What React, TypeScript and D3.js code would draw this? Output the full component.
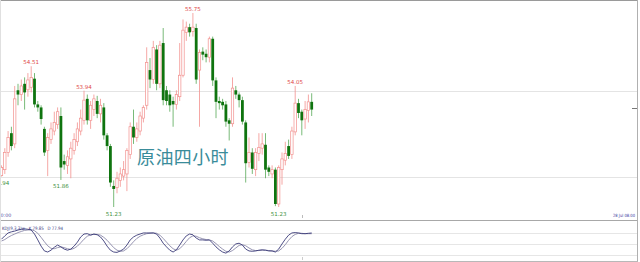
import React from "react";
import * as d3 from "d3";

const opens = [51.96,52.10,52.50,52.95,52.70,53.95,53.85,54.10,53.96,54.02,54.22,53.62,53.55,53.05,52.55,52.80,53.00,53.15,53.35,52.30,52.20,52.35,52.55,52.75,53.00,53.25,53.75,53.25,53.50,53.70,53.40,53.55,52.90,52.65,51.72,51.68,51.85,51.95,52.00,52.45,53.10,52.85,53.00,53.30,53.60,54.42,54.20,54.90,54.10,55.05,53.95,53.85,53.70,53.62,53.80,54.30,55.30,55.42,55.32,55.40,54.42,54.85,54.80,54.72,55.15,54.18,53.70,53.68,53.62,53.25,53.17,53.95,53.85,53.72,53.20,52.27,52.50,52.10,52.48,52.60,52.68,52.15,52.00,52.10,51.30,52.10,52.32,52.65,52.45,52.98,53.65,53.45,53.28,53.48,53.68];
const highs = [52.20,52.60,53.00,53.10,54.05,54.10,54.20,54.25,54.35,54.51,54.35,53.70,53.60,53.10,52.95,53.20,53.45,53.55,53.55,52.45,52.55,52.75,52.95,53.20,53.50,53.94,53.85,53.70,53.85,53.82,53.75,53.65,52.95,52.70,51.85,52.05,52.15,52.30,52.60,53.20,53.50,53.20,53.45,53.60,54.95,54.70,55.10,55.00,55.10,55.40,54.05,53.95,53.80,53.95,55.05,55.60,55.55,55.50,55.75,55.50,54.90,54.95,54.90,55.20,55.20,54.25,53.80,53.75,53.70,53.30,54.25,54.05,53.90,53.80,53.25,52.85,52.60,52.60,52.95,52.95,52.95,52.20,52.20,52.15,52.20,52.50,52.75,52.80,53.10,54.05,53.75,53.50,53.70,53.85,53.88];
const lows = [51.94,52.00,52.40,52.55,52.60,53.60,53.70,53.50,53.80,53.90,53.55,53.45,53.15,52.42,51.95,52.70,52.90,53.05,51.86,52.10,52.00,51.90,52.45,52.65,52.90,53.15,53.15,53.05,53.35,53.30,53.20,52.80,52.55,51.70,51.23,51.55,51.70,51.85,51.60,52.35,52.70,52.75,52.90,53.20,53.50,54.00,54.10,53.95,54.00,53.60,53.60,53.45,53.10,53.50,53.70,54.25,55.10,55.20,55.20,54.10,53.10,54.65,54.60,54.60,54.05,53.30,53.50,53.50,53.10,52.78,53.10,53.75,53.55,53.15,51.80,52.15,52.00,51.95,52.30,52.45,51.90,51.95,51.90,51.25,51.23,51.75,52.20,52.35,52.35,52.90,53.30,52.90,53.05,53.20,53.35];
const closes = [52.15,52.50,52.85,52.65,53.75,53.85,54.05,53.90,54.19,54.25,53.62,53.55,53.28,52.50,52.85,53.05,53.20,53.45,52.15,52.22,52.40,52.60,52.80,53.05,53.30,53.72,53.25,53.60,53.75,53.40,53.60,52.90,52.65,51.80,51.65,51.90,52.00,52.10,52.55,53.10,52.85,53.05,53.35,53.55,54.60,54.20,54.95,54.10,55.00,53.72,53.70,53.60,53.62,53.85,54.30,55.35,55.42,55.30,55.42,54.20,54.83,54.78,54.72,55.15,54.18,53.68,53.65,53.60,53.22,53.17,54.00,53.85,53.72,53.22,52.25,52.50,52.12,52.50,52.62,52.70,52.10,52.05,52.10,51.30,52.15,52.35,52.48,52.42,53.00,53.65,53.42,53.25,53.50,53.68,53.50];

const kValues = [63,72,80,83,85,88,90,91,90,88,77,61,44,31,28,33,41,47,42,36,33,36,44,55,69,77,78,74,77,75,69,58,44,33,28,27,31,36,47,61,69,74,77,80,80,80,80,77,66,52,42,33,28,34,47,61,72,77,75,66,61,61,60,61,52,42,34,28,25,31,42,50,52,47,36,31,30,31,33,34,33,31,31,28,36,50,63,74,80,81,80,78,78,79,79.85];
const dValues = [58,62,68,73,77,81,84,87,88,89,86,79,68,56,45,38,37,40,42,40,37,35,38,44,53,63,71,75,76,76,74,68,60,50,40,33,30,31,37,46,56,65,71,75,78,79,80,79,74,65,55,45,37,33,37,46,57,67,72,71,67,64,62,61,58,51,43,36,30,28,32,39,46,48,45,39,34,32,32,33,33,32,31,30,31,38,48,60,70,76,79,79,78,78,77.94];

const highLabelIdx = [9, 25, 58, 89];
const highLabelText = ["54.51", "53.94", "55.75", "54.05"];
const lowLabelIdx = [0, 18, 34, 84];
const lowLabelText = ["51.94", "51.86", "51.23", "51.23"];
const kdjLevels = [80, 50, 20];
const priceGrid = [53.94, 51.94];
const kdjTitle = "KDJ(9,3,3)w   K 79.85   D 77.94";

const W = 640, H = 262;

export default function App() {
  const n = opens.length;
  const x = d3.scaleLinear().domain([0, n - 1]).range([1.5, 311.7]);
  const y = d3.scaleLinear().domain([51.23, 55.75]).range([207, 13]);
  const ky = d3.scaleLinear().domain([0, 100]).range([262.3, 225.6]);
  const kLine = d3.line<number>().x((_, i) => x(i)).y((v) => ky(v)).curve(d3.curveLinear);
  const bodyW = 2.4;
  const up = "#f2908e";
  const downFill = "#0f740f";
  const downWick = "#56a856";
  const lastClose = closes[n - 1];

  return (
    <svg width={W} height={H} style={{ position: "fixed", left: 0, top: 0, background: "#fff" }}
      fontFamily="'DejaVu Sans', sans-serif">
      <rect x={0} y={0} width={W} height={H} fill="#fff" />
      {priceGrid.map((p, i) => (
        <line key={"g" + i} x1={0} x2={637} y1={Math.round(y(p)) + 0.5} y2={Math.round(y(p)) + 0.5} stroke="#e4e4e4" strokeWidth={1} />
      ))}
      {kdjLevels.map((lv, i) => (
        <line key={"kl" + i} x1={0} x2={637} y1={Math.round(ky(lv)) + 0.5} y2={Math.round(ky(lv)) + 0.5} stroke="#e6e6e6" strokeWidth={1} />
      ))}
      <text x={137} y={164} fontSize={18} fill="#3a8c9a" fontFamily="'Noto Sans CJK SC', sans-serif" letterSpacing={0.4}>原油四小时</text>
      {opens.map((o, i) => {
        const c = closes[i];
        const bull = c >= o;
        const cx = x(i);
        const top = y(Math.max(o, c));
        const bot = y(Math.min(o, c));
        return (
          <g key={"c" + i}>
            <line x1={cx} x2={cx} y1={y(highs[i])} y2={y(lows[i])} stroke={bull ? up : downWick} strokeWidth={0.8} />
            {bull ? (
              <rect x={cx - bodyW / 2} y={top} width={bodyW} height={Math.max(bot - top, 0.8)} fill="#fff" stroke={up} strokeWidth={0.7} />
            ) : (
              <rect x={cx - bodyW / 2 - 0.2} y={top} width={bodyW + 0.4} height={Math.max(bot - top, 1)} fill={downFill} />
            )}
          </g>
        );
      })}
      {highLabelIdx.map((idx, i) => (
        <text key={"hl" + i} x={x(idx)} y={y(highs[idx]) - 2} fontSize={5.5} fill="#e04848" textAnchor="middle">{highLabelText[i]}</text>
      ))}
      {lowLabelIdx.map((idx, i) => (
        <text key={"ll" + i} x={x(idx)} y={y(lows[idx]) + 8.5} fontSize={5.5} fill="#3c8f3c" textAnchor="middle">{lowLabelText[i]}</text>
      ))}
      <line x1={632} x2={638} y1={Math.round(y(lastClose)) - 1.5} y2={Math.round(y(lastClose)) - 1.5} stroke="#777" strokeWidth={1} />
      <line x1={0} x2={637} y1={220.5} y2={220.5} stroke="#a8a8a8" strokeWidth={1} />
      <text x={0.5} y={216.5} fontSize={4.8} fill="#5050a0">0:00</text>
      <text x={613} y={217} fontSize={4.4} fill="#3838a0" textLength={22} lengthAdjust="spacingAndGlyphs">28 Jul 08:00</text>
      <line x1={302.5} x2={302.5} y1={215} y2={218} stroke="#bbb" strokeWidth={1} />
      <line x1={302.5} x2={302.5} y1={257} y2={260} stroke="#ccc" strokeWidth={1} />
      <path d={kLine(dValues) || ""} fill="none" stroke="#8a88a8" strokeWidth={0.9} />
      <path d={kLine(kValues) || ""} fill="none" stroke="#3a3a78" strokeWidth={0.9} />
      <text x={2} y={229.5} fontSize={4.6} fill="#3a3a80" textLength={61} lengthAdjust="spacingAndGlyphs" style={{ whiteSpace: "pre" }}>{kdjTitle}</text>
      <line x1={0} x2={638} y1={0.5} y2={0.5} stroke="#9a9a9a" strokeWidth={1} />
      <line x1={637.5} x2={637.5} y1={0} y2={262} stroke="#b0b0b0" strokeWidth={1} />
      <line x1={0} x2={638} y1={261.5} y2={261.5} stroke="#b8b8b8" strokeWidth={1} />
      <line x1={0.5} x2={0.5} y1={0} y2={262} stroke="#e0e0e0" strokeWidth={1} />
    </svg>
  );
}
